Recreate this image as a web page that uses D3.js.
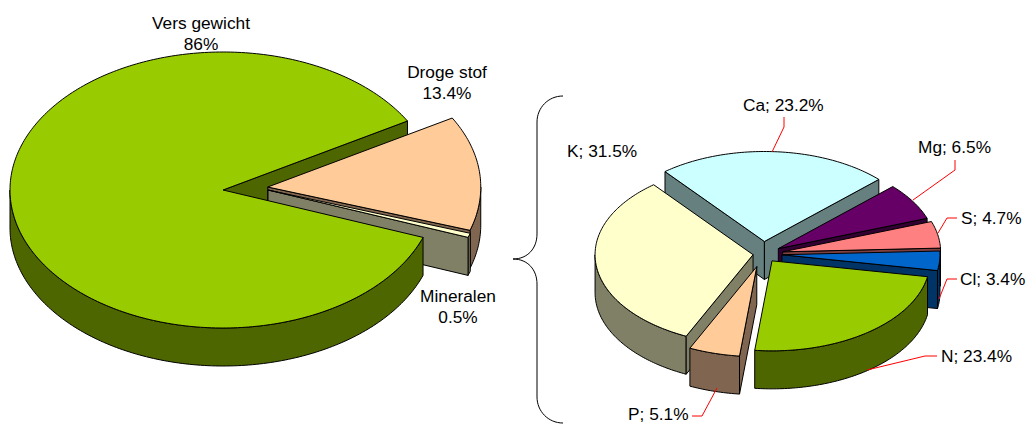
<!DOCTYPE html>
<html>
<head>
<meta charset="utf-8">
<script src="https://cdnjs.cloudflare.com/ajax/libs/d3/7.8.5/d3.min.js"></script>
<style>
html,body{margin:0;padding:0;background:#fff;overflow:hidden}
text{font-family:"Liberation Sans",Arial,sans-serif;font-size:17.3px;fill:#000}
</style>
</head>
<body>
<svg id="c" width="1026" height="424"></svg>
<script>
// ---- data ----
const leftCategories = ["Droge stof", "Mineralen", "Vers gewicht"];
const leftValues = [13.4, 0.5, 86];
const rightCategories = ["Ca", "Mg", "S", "Cl", "N", "P", "K"];
const rightValues = [23.2, 6.5, 4.7, 3.4, 23.4, 5.1, 31.5];

// ---- styling ----
const topColors = {"Droge stof":"#FFCC99","Mineralen":"#FFFFCC","Vers gewicht":"#99CC00",
  Ca:"#CCFFFF",Mg:"#660066",S:"#FF8080",Cl:"#0066CC",N:"#99CC00",P:"#FFCC99",K:"#FFFFCC"};
const wallColors = {"Droge stof":"#806650","Mineralen":"#808066","Vers gewicht":"#4D6600",
  Ca:"#668080",Mg:"#330033",S:"#804040",Cl:"#003366",N:"#4D6600",P:"#806650",K:"#808066"};

const rad = d => d * Math.PI / 180;
const svg = d3.select("#c");
const line = d3.line();

function layoutPie(cats, vals, start) {
  return d3.pie().sort(null).startAngle(rad(start)).endAngle(rad(start + 360))(vals)
    .map((d, i) => ({...d, name: cats[i]}));
}

function drawer(g, cfg) {
  const pt = (d, th, drop = 0) => {
    const mid = (d.startAngle + d.endAngle) / 2;
    const dir = cfg.dir && cfg.dir[d.name] !== undefined ? rad(cfg.dir[d.name]) : mid;
    const e = cfg.explode[d.name] || 0;
    const ox = cfg.cx + e * Math.sin(dir), oy = cfg.cy - e * (cfg.b / cfg.a) * Math.cos(dir);
    if (th === null) return [ox, oy + drop];
    return [ox + cfg.a * Math.sin(th), oy - cfg.b * Math.cos(th) + drop];
  };
  const sampled = (a0, a1) => {
    const n = Math.max(2, Math.ceil((a1 - a0) / rad(1)));
    return d3.range(n + 1).map(i => a0 + (a1 - a0) * i / n);
  };
  const shape = (pts, fill) => g.append("path")
    .attr("d", line(pts) + "Z").attr("fill", fill)
    .attr("stroke", "#000").attr("stroke-width", 1).attr("stroke-linejoin", "round");
  const cut = (d, th) => shape([pt(d, null), pt(d, th), pt(d, th, cfg.depth), pt(d, null, cfg.depth)], wallColors[d.name]);
  return {
    cuts(d) {
      const norm = x => ((x % (2 * Math.PI)) + 2 * Math.PI) % (2 * Math.PI);
      const s = norm(d.startAngle), e = norm(d.endAngle);
      if (s > Math.PI) cut(d, d.startAngle);
      if (e < Math.PI) cut(d, d.endAngle);
    },
    rim(d) {
      // the outer wall is visible where the rim runs across the front half
      for (const k of [0, 2]) {
        const a0 = Math.max(d.startAngle, Math.PI / 2 + k * Math.PI);
        const a1 = Math.min(d.endAngle, 3 * Math.PI / 2 + k * Math.PI);
        if (a1 <= a0) continue;
        const ths = sampled(a0, a1);
        shape([...ths.map(t => pt(d, t)), ...ths.reverse().map(t => pt(d, t, cfg.depth))], wallColors[d.name]);
      }
    },
    top(d) {
      shape([pt(d, null), ...sampled(d.startAngle, d.endAngle).map(t => pt(d, t))], topColors[d.name]);
    }
  };
}

// ---- left pie ----
const leftArcs = layoutPie(leftCategories, leftValues, 60);
const byLeft = Object.fromEntries(leftArcs.map(d => [d.name, d]));
const gL = svg.append("g");
const L = drawer(gL, {cx:223, cy:190, a:213, b:138, depth:38,
  explode:{"Droge stof":45, "Mineralen":45}, dir:{"Mineralen":90}});
L.cuts(byLeft["Vers gewicht"]);
["Droge stof", "Mineralen"].forEach(n => { L.rim(byLeft[n]); L.cuts(byLeft[n]); L.top(byLeft[n]); });
L.rim(byLeft["Vers gewicht"]); L.top(byLeft["Vers gewicht"]);

// ---- right pie ----
const rightArcs = layoutPie(rightCategories, rightValues, -39);
const byRight = Object.fromEntries(rightArcs.map(d => [d.name, d]));
const gR = svg.append("g");
const R = drawer(gR, {cx:763, cy:254, a:158, b:90, depth:38,
  explode:{Ca:22, Mg:18, S:20, Cl:19, N:15, P:23, K:10}});
["Ca", "K", "Mg", "S", "Cl", "N", "P"].forEach(n => {
  const d = byRight[n]; R.rim(d); R.cuts(d); R.top(d);
});

// ---- brace ----
svg.append("path")
  .attr("d", "M563,96C548,96 537,108 537,122L537,234C537,248 528,259 513,259C528,259 537,270 537,284L537,397C537,411 548,423 563,423")
  .attr("fill", "none").attr("stroke", "#000").attr("stroke-width", 1);

// ---- leader lines ----
const leaders = {
  Ca:[[772,152],[784,127],[784,117]],
  Mg:[[913,200],[955,170],[955,160]],
  S:[[938,233],[947,218],[957,218]],
  Cl:[[939,299],[947,279],[957,279]],
  N:[[867,370],[925,356],[937,356]],
  P:[[717,388],[702,416],[692,416]]
};
Object.values(leaders).forEach(p => svg.append("path").attr("d", line(p))
  .attr("fill", "none").attr("stroke", "#FF0000").attr("stroke-width", 1));

// ---- labels ----
const leftLabelPos = {"Vers gewicht":[201,29,50], "Droge stof":[447,78,99], "Mineralen":[458,302,323]};
leftCategories.forEach((c, i) => {
  const [x, y1, y2] = leftLabelPos[c];
  svg.append("text").attr("x", x).attr("y", y1).attr("text-anchor", "middle").text(c);
  svg.append("text").attr("x", x).attr("y", y2).attr("text-anchor", "middle").text(leftValues[i] + "%");
});
const rightLabelPos = {Ca:[743,111], Mg:[918,153], S:[961,224], Cl:[960,285], N:[941,362], P:[628,420], K:[567,157]};
rightCategories.forEach((c, i) => {
  const [x, y] = rightLabelPos[c];
  svg.append("text").attr("x", x).attr("y", y).text(`${c}; ${rightValues[i].toFixed(1)}%`);
});
</script>
</body>
</html>
